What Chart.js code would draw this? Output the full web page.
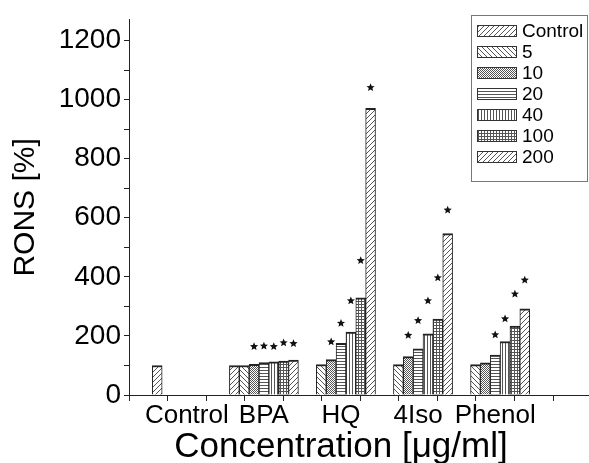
<!DOCTYPE html>
<html>
<head>
<meta charset="utf-8">
<script src="https://cdn.jsdelivr.net/npm/chart.js@4.4.1/dist/chart.umd.min.js"></script>
<style>
  html, body { margin: 0; padding: 0; background: #ffffff; }
  #wrap { width: 589px; height: 463px; position: relative; }
</style>
</head>
<body>
<div id="wrap"><canvas id="c" width="589" height="463"></canvas></div>
<script>
// ---- data ----
const categories = ['Control', 'BPA', 'HQ', '4Iso', 'Phenol'];
const seriesLabels = ['Control', '5', '10', '20', '40', '100', '200'];

const valControl = [100, 100, null, null, null];
const val5   = [null, 100, 103, 103, 103];
const val10  = [null, 104, 120, 130, 109];
const val20  = [null, 110, 175, 156, 135];
const val40  = [null, 112, 213, 207, 181];
const val100 = [null, 115, 329, 257, 233];
const val200 = [null, 118, 970, 546, 292];

// significance star heights (data units), null = no star
const starControl = [null, null, null, null, null];
const star5   = [null, null, null, null, null];
const star10  = [null, 164, 180, 202, null];
const star20  = [null, 166, 243, 252, 204];
const star40  = [null, 164, 319, 319, 258];
const star100 = [null, 177, 455, 397, 342];
const star200 = [null, 174, 1041, 626, 389];

const yTickValues = [0,100,200,300,400,500,600,700,800,900,1000,1100,1200];
const xTickValues = [0.5,1,1.5,2,2.5,3,3.5,4,4.5,5,5.5];

const seriesValues = [valControl, val5, val10, val20, val40, val100, val200];
const seriesStars = [starControl, star5, star10, star20, star40, star100, star200];
const patternKinds = ['fwd', 'back', 'check', 'horiz', 'vert', 'grid', 'fwd'];

const FONT = "'Liberation Sans', Arial, sans-serif";

const X_MIN = 0.5, X_MAX = 5.5;
const Y_MIN = 0, Y_MAX = 1270;

function makePattern(kind) {
  const s = (kind === 'fwd' || kind === 'back') ? 5 : (kind === 'check' ? 4 : 3);
  const c = document.createElement('canvas');
  c.width = s; c.height = s;
  const g = c.getContext('2d');
  g.fillStyle = '#ffffff';
  g.fillRect(0, 0, s, s);
  g.strokeStyle = '#555555';
  g.fillStyle = '#555555';
  g.lineWidth = 1;
  g.beginPath();
  if (kind === 'fwd') {
    g.moveTo(-1, s + 1); g.lineTo(s + 1, -1);
    g.moveTo(-1, 1); g.lineTo(1, -1);
    g.moveTo(s - 1, s + 1); g.lineTo(s + 1, s - 1);
    g.stroke();
  } else if (kind === 'back') {
    g.moveTo(-1, -1); g.lineTo(s + 1, s + 1);
    g.moveTo(s - 1, -1); g.lineTo(s + 1, 1);
    g.moveTo(-1, s - 1); g.lineTo(1, s + 1);
    g.stroke();
  } else if (kind === 'horiz') {
    g.fillRect(0, 1, s, 1);
  } else if (kind === 'vert') {
    g.fillRect(1, 0, 1, s);
  } else if (kind === 'grid') {
    g.fillRect(0, 1, s, 1);
    g.fillRect(1, 0, 1, s);
  } else if (kind === 'check') {
    g.fillRect(0, 0, 1, 1);
    g.fillRect(2, 0, 1, 1);
    g.fillRect(1, 1, 1, 1);
    g.fillRect(3, 1, 1, 1);
    g.fillRect(0, 2, 1, 1);
    g.fillRect(2, 2, 1, 1);
    g.fillRect(1, 3, 1, 1);
    g.fillRect(3, 3, 1, 1);
  }
  const main = document.getElementById('c').getContext('2d');
  return main.createPattern(c, 'repeat');
}

const datasets = seriesLabels.map((lab, d) => ({
  type: 'bar',
  label: lab,
  data: seriesValues[d].map((v, i) => ({ x: i + 1, y: v })),
  backgroundColor: makePattern(patternKinds[d]),
  borderColor: '#222222',
  borderWidth: { top: 2, left: 1, right: 1, bottom: 0 },
  borderSkipped: 'start',
  barThickness: 9.86
}));

function drawStar(ctx, cx, cy, r) {
  ctx.beginPath();
  for (let k = 0; k < 10; k++) {
    const rad = (k % 2 === 0) ? r : r * 0.45;
    const a = -Math.PI / 2 + k * Math.PI / 5;
    const px = cx + rad * Math.cos(a), py = cy + rad * Math.sin(a);
    if (k === 0) ctx.moveTo(px, py); else ctx.lineTo(px, py);
  }
  ctx.closePath();
  ctx.fill();
}

const starPlugin = {
  id: 'stars',
  afterDatasetsDraw(chart) {
    const ctx = chart.ctx;
    ctx.save();
    ctx.fillStyle = '#111111';
    seriesStars.forEach((arr, d) => {
      const meta = chart.getDatasetMeta(d);
      arr.forEach((lvl, i) => {
        if (lvl === null) return;
        const bar = meta.data[i];
        drawStar(ctx, bar.x, chart.scales.y.getPixelForValue(lvl), 4.3);
      });
    });
    ctx.restore();
  }
};

const extrasPlugin = {
  id: 'extras',
  afterDraw(chart) {
    const ctx = chart.ctx;
    const ca = chart.chartArea;
    ctx.save();
    // axis line continues to the right edge
    ctx.strokeStyle = '#222222';
    ctx.lineWidth = 1;
    ctx.beginPath();
    ctx.moveTo(ca.right, Math.round(ca.bottom) + 0.5);
    ctx.lineTo(chart.width, Math.round(ca.bottom) + 0.5);
    ctx.stroke();
    // legend box
    const bx = 471.5, by = 15.5, bw = 116, bh = 166;
    ctx.fillStyle = '#ffffff';
    ctx.fillRect(bx, by, bw, bh);
    ctx.strokeStyle = '#777777';
    ctx.strokeRect(bx, by, bw, bh);
    ctx.font = '19px ' + FONT;
    ctx.textBaseline = 'middle';
    ctx.textAlign = 'left';
    chart.data.datasets.forEach((ds, d) => {
      const cy = 31 + d * 21;
      ctx.fillStyle = ds.backgroundColor;
      ctx.fillRect(477, cy - 6, 40, 12);
      ctx.strokeStyle = '#333333';
      ctx.strokeRect(477.5, cy - 5.5, 39, 11);
      ctx.fillStyle = '#000000';
      ctx.fillText(ds.label, 522, cy + 1);
    });
    ctx.restore();
  }
};

new Chart(document.getElementById('c'), {
  type: 'bar',
  data: { datasets },
  plugins: [starPlugin, extrasPlugin],
  options: {
    responsive: false,
    animation: false,
    layout: { padding: { top: 13, right: 36, left: 0, bottom: 0 } },
    plugins: { legend: { display: false }, tooltip: { enabled: false } },
    scales: {
      x: {
        type: 'linear',
        bounds: 'data',
        min: X_MIN,
        max: X_MAX,
        afterBuildTicks: (s) => { s.min = X_MIN; s.max = X_MAX; s.ticks = xTickValues.map(v => ({ value: v })); },
        afterFit: (s) => { s.height = 68; },
        grid: { drawOnChartArea: false, drawTicks: true, tickLength: 6, tickColor: '#222222' },
        border: { display: true, color: '#222222', width: 1 },
        ticks: {
          autoSkip: false,
          maxRotation: 0,
          padding: -1,
          color: '#000000',
          font: { family: FONT, size: 26 },
          callback: (v) => Number.isInteger(v) ? categories[v - 1] : ''
        },
        title: {
          display: true,
          text: 'Concentration [μg/ml]',
          color: '#000000',
          font: { family: FONT, size: 35, lineHeight: 1.0 },
          padding: { top: 0, bottom: -2 }
        }
      },
      y: {
        bounds: 'data',
        min: Y_MIN,
        max: Y_MAX,
        afterBuildTicks: (s) => { s.min = Y_MIN; s.max = Y_MAX; s.ticks = yTickValues.map(v => ({ value: v })); },
        afterFit: (s) => { s.width = 129; },
        grid: { drawOnChartArea: false, drawTicks: true, tickLength: 5, tickColor: '#222222' },
        border: { display: true, color: '#222222', width: 1 },
        ticks: {
          autoSkip: false,
          padding: 3,
          color: '#000000',
          font: { family: FONT, size: 28 },
          callback: (v) => (v % 200 === 0) ? String(v) : ''
        },
        title: {
          display: true,
          text: 'RONS [%]',
          color: '#000000',
          font: { family: FONT, size: 30 },
          padding: { top: 8, bottom: 0 }
        }
      }
    }
  }
});
</script>
</body>
</html>
